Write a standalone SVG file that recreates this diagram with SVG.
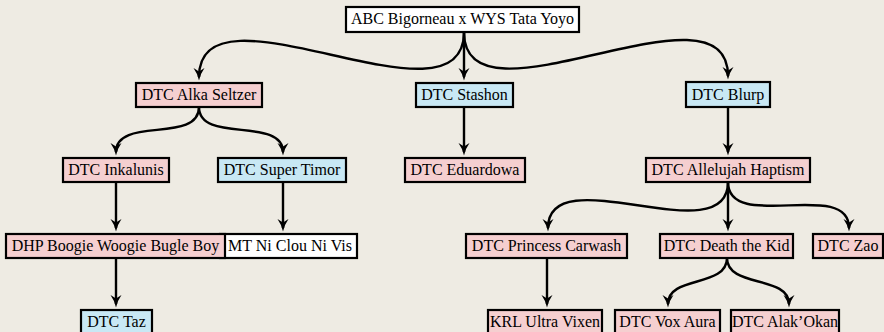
<svg xmlns="http://www.w3.org/2000/svg" width="884" height="332" viewBox="0 0 884 332">
  <defs>
    <marker id="arr" viewBox="-11 -7 15 14" markerWidth="15" markerHeight="14" refX="0" refY="0" orient="auto" markerUnits="userSpaceOnUse">
      <path d="M3.5,0 Q-4,-1.8 -9,-5.5 L-5.5,0 L-9,5.5 Q-4,1.8 3.5,0 Z" fill="#000"/>
    </marker>
  </defs>
  <style>
    .box { stroke: #000; stroke-width: 2.2; }
    .white { fill: #ffffff; }
    .pink { fill: #f5cfd0; }
    .blue { fill: #c8e8f4; }
    text { font-family: "Liberation Serif", "Times New Roman", serif; font-size: 16px; fill: #000; text-anchor: middle; }
    .edge { fill: none; stroke: #000; stroke-width: 2.4; marker-end: url(#arr); }
  </style>
  <rect x="0" y="0" width="884" height="332" fill="#eeebe3"/>

  <g id="connectors">
    <path class="edge" d="M464,32 C464,137 199,-27 199,77"/>
    <path class="edge" d="M464,32 L464,77"/>
    <path class="edge" d="M464,32 C464,137 728,-28 728,76"/>
    <path class="edge" d="M199,107 C199,144 116,116 116,152"/>
    <path class="edge" d="M199,107 C199,144 283,116 283,152"/>
    <path class="edge" d="M464,107 L464,152"/>
    <path class="edge" d="M728,107 L728,152"/>
    <path class="edge" d="M116,182 L116,228"/>
    <path class="edge" d="M283,182 L283,228"/>
    <path class="edge" d="M728,182 C728,255 548,156 548,228"/>
    <path class="edge" d="M728,182 L728,228"/>
    <path class="edge" d="M728,182 C728,233 849,178 849,228"/>
    <path class="edge" d="M116,258 L116,304"/>
    <path class="edge" d="M547,258 L547,304"/>
    <path class="edge" d="M727,258 C727,288 668,275 668,304"/>
    <path class="edge" d="M727,258 C727,288 789,275 789,304"/>
  </g>

  <g id="n-top"><rect class="box white" x="346" y="7" width="233" height="25"/><text x="462.5" y="24">ABC Bigorneau x WYS Tata Yoyo</text></g>
  <g id="n-alka"><rect class="box pink" x="136" y="83" width="126" height="24"/><text x="199" y="100">DTC Alka Seltzer</text></g>
  <g id="n-stashon"><rect class="box blue" x="416" y="83" width="97" height="24"/><text x="464.5" y="100">DTC Stashon</text></g>
  <g id="n-blurp"><rect class="box blue" x="686" y="82" width="84" height="25"/><text x="728" y="100">DTC Blurp</text></g>
  <g id="n-inkalunis"><rect class="box pink" x="63" y="158" width="106" height="24"/><text x="116" y="175">DTC Inkalunis</text></g>
  <g id="n-supertimor"><rect class="box blue" x="218" y="158" width="128" height="24"/><text x="282" y="175">DTC Super Timor</text></g>
  <g id="n-eduardowa"><rect class="box pink" x="405" y="158" width="120" height="24"/><text x="465" y="175">DTC Eduardowa</text></g>
  <g id="n-allelujah"><rect class="box pink" x="646" y="158" width="164" height="24"/><text x="728" y="175">DTC Allelujah Haptism</text></g>
  <g id="n-mt"><rect class="box white" x="220" y="234" width="137" height="24"/><text x="290" y="251">MT Ni Clou Ni Vis</text></g>
  <g id="n-boogie"><rect class="box pink" x="6" y="234" width="219" height="24"/><text x="115.5" y="251">DHP Boogie Woogie Bugle Boy</text></g>
  <g id="n-princess"><rect class="box pink" x="466" y="234" width="161" height="24"/><text x="546.5" y="251">DTC Princess Carwash</text></g>
  <g id="n-death"><rect class="box pink" x="660" y="234" width="133" height="24"/><text x="726.5" y="251">DTC Death the Kid</text></g>
  <g id="n-zao"><rect class="box pink" x="813" y="234" width="70" height="24"/><text x="848" y="251">DTC Zao</text></g>
  <g id="n-taz"><rect class="box blue" x="81" y="310" width="71" height="24"/><text x="116.5" y="327">DTC Taz</text></g>
  <g id="n-krl"><rect class="box pink" x="488" y="310" width="114" height="24"/><text x="545" y="327">KRL Ultra Vixen</text></g>
  <g id="n-vox"><rect class="box pink" x="615" y="310" width="105" height="24"/><text x="667.5" y="327">DTC Vox Aura</text></g>
  <g id="n-alak"><rect class="box pink" x="731" y="310" width="108" height="24"/><text x="785" y="327">DTC Alak’Okan</text></g>
</svg>
